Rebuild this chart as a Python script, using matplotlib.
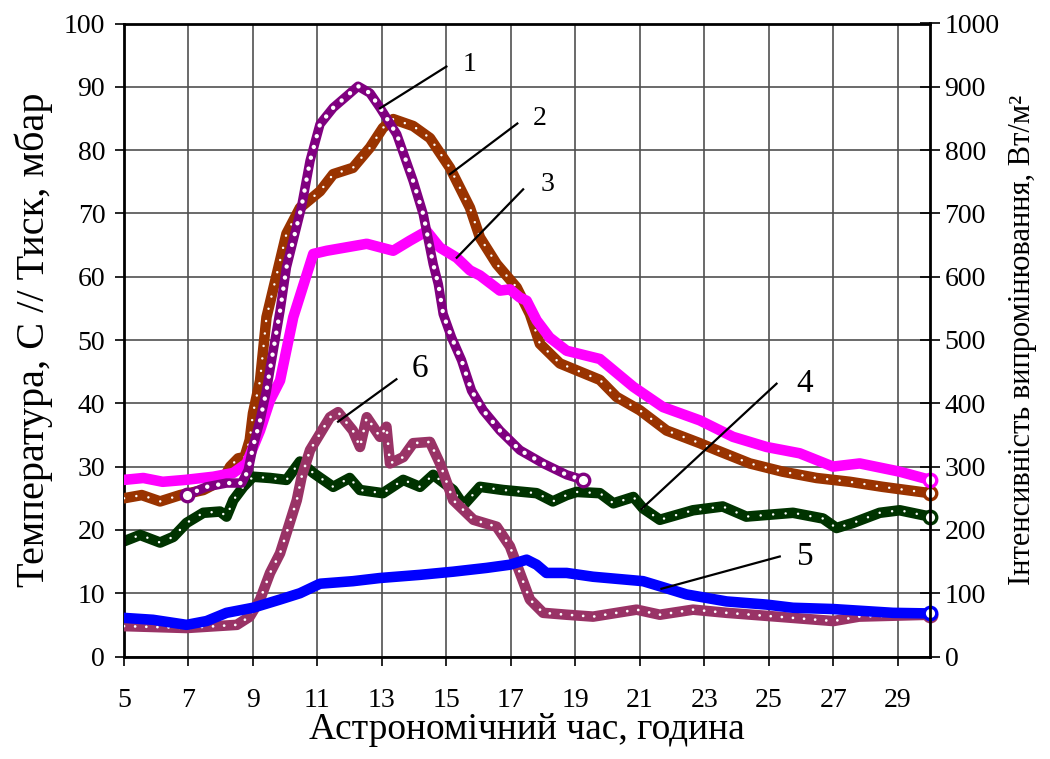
import matplotlib
matplotlib.use("Agg")
import matplotlib.pyplot as plt

plt.rcParams['font.family'] = ['Liberation Serif', 'DejaVu Serif']

# ---- data (left-axis units) ----
t1 = [6.94, 7.56, 8.18, 8.65, 8.85, 9.0, 9.22, 9.42, 9.47, 9.84, 10.04, 10.5, 10.77, 11.08, 11.49, 11.9,
      12.26, 12.63, 12.94, 13.46, 13.97, 14.28, 14.59, 14.75, 14.9, 15.16, 15.47, 15.78, 16.14, 16.66,
      17.28, 18.0, 18.73, 19.24]
v1 = [25.5, 26.8, 27.4, 27.4, 29.4, 33.1, 37.3, 42.0, 43.6, 54.6, 61.5, 70.9, 78.3, 84.1, 86.7, 88.5,
      90.1, 89.0, 86.7, 82.5, 75.1, 69.9, 62.0, 58.8, 54.1, 50.4, 46.8, 42.0, 38.9, 35.7,
      32.6, 30.5, 28.7, 27.9]

t2 = [5.0, 5.55, 6.12, 6.74, 7.46, 8.07, 8.29, 8.54, 8.74, 8.9, 9.0, 9.22, 9.42, 10.04, 10.46, 11.08,
      11.49, 12.1, 12.63, 13.03, 13.35, 13.97, 14.49, 15.11, 15.73, 16.04, 16.56, 17.18, 17.59, 17.9,
      18.52, 19.76, 20.28, 21.0, 21.83, 22.86, 23.38, 24.41, 25.43, 26.48, 27.51, 28.53, 30.0]
v2 = [25.0, 25.5, 24.5, 25.5, 26.3, 27.9, 30.0, 31.3, 31.5, 34.2, 38.4, 43.6, 53.6, 66.8, 70.9, 73.5,
      76.2, 77.2, 80.4, 83.5, 84.9, 83.8, 81.9, 77.2, 70.9, 66.2, 62.0, 58.3, 54.1, 49.4,
      46.3, 43.7, 41.0, 38.9, 35.7, 33.7, 32.6, 30.5, 29.2, 28.2, 27.6, 26.8, 25.8]

t3 = [5.0, 5.6, 6.2, 6.9, 7.77, 8.39, 8.8, 9.22, 9.53, 9.84, 10.25, 10.87, 11.29, 12.53, 13.35, 13.87,
      14.39, 14.8, 15.32, 15.73, 16.04, 16.66, 16.97, 17.28, 17.49, 17.8, 18.2, 18.73, 19.76, 20.8,
      21.72, 22.86, 23.89, 24.93, 25.96, 26.99, 27.82, 29.06, 30.0]
v3 = [27.9, 28.2, 27.6, 27.9, 28.4, 29.0, 30.5, 35.7, 40.5, 43.6, 53.6, 63.6, 64.1, 65.2, 64.1, 65.7,
      67.2, 64.6, 63.0, 61.0, 60.2, 57.8, 58.0, 56.7, 56.2, 53.1, 50.4, 48.3, 47.0, 42.6,
      39.4, 37.3, 34.7, 33.1, 32.1, 30.0, 30.5, 29.2, 27.9]

t4 = [5.0, 5.5, 6.12, 6.53, 6.94, 7.46, 7.98, 8.18, 8.39, 8.7, 9.0, 9.53, 10.04, 10.46, 10.87, 11.49,
      12.0, 12.32, 13.03, 13.66, 14.18, 14.59, 15.21, 15.53, 16.04, 16.76, 17.8, 18.3, 18.73, 19.04,
      19.76, 20.18, 20.8, 21.1, 21.62, 22.65, 23.57, 24.3, 25.75, 26.68, 27.1, 27.61, 28.44, 29.06, 30.0]
v4 = [18.2, 19.2, 18.0, 18.9, 21.1, 22.7, 22.9, 22.1, 24.7, 26.8, 28.4, 28.2, 27.9, 30.8, 29.0, 26.8,
      28.2, 26.3, 25.8, 27.9, 26.8, 28.7, 26.3, 23.9, 26.8, 26.3, 25.8, 24.5, 25.5, 26.0,
      25.8, 24.2, 25.2, 23.4, 21.6, 23.1, 23.7, 22.1, 22.7, 21.8, 20.3, 21.1, 22.7, 23.1, 22.1]

t5 = [5.0, 5.9, 6.94, 7.56, 8.18, 9.0, 9.84, 10.46, 11.08, 12.1, 12.94, 14.18, 15.21, 16.25, 16.97,
      17.49, 17.8, 18.1, 18.73, 19.55, 21.1, 21.62, 22.45, 23.69, 24.93, 25.75, 26.99, 28.85, 30.0]
v5 = [6.1, 5.8, 5.0, 5.6, 6.9, 7.7, 9.0, 10.0, 11.5, 11.9, 12.4, 12.9, 13.4, 14.0, 14.5,
      15.3, 14.5, 13.2, 13.2, 12.6, 11.9, 11.1, 9.8, 8.7, 8.2, 7.7, 7.5, 6.9, 6.8]

t6 = [5.0, 6.94, 8.5, 8.9, 9.22, 9.53, 9.84, 10.04, 10.36, 10.51, 10.77, 11.08, 11.39, 11.64, 12.1,
      12.32, 12.53, 12.94, 13.14, 13.25, 13.66, 13.97, 14.49, 14.8, 15.21, 15.84, 16.56, 16.97, 17.28,
      17.59, 18.0, 18.73, 19.55, 20.9, 21.62, 22.65, 23.69, 25.24, 27.0, 27.8, 30.0]
v6 = [4.8, 4.5, 5.0, 6.3, 9.0, 13.2, 16.3, 19.5, 24.7, 28.4, 32.6, 35.2, 37.8, 38.6, 35.7,
      33.1, 37.8, 34.7, 36.3, 30.5, 31.5, 33.7, 33.9, 30.5, 24.7, 21.6, 20.5, 17.4, 13.2,
      9.0, 6.9, 6.6, 6.3, 7.4, 6.6, 7.4, 6.9, 6.3, 5.6, 6.3, 6.6]

x_ticks = list(range(5, 30, 2))
y_left_ticks = list(range(0, 101, 10))
y_right_ticks = list(range(0, 1001, 100))

labels = ['1', '2', '3', '4', '5', '6']
label_pos = [(15.73, 93.5), (17.9, 85.0), (18.15, 74.6), (26.12, 43.1), (26.12, 15.7), (14.18, 45.5)]
leader = [((15.0, 93.2), (12.94, 86.6)), ((17.2, 84.2), (15.11, 76.2)), ((17.38, 73.8), (15.32, 63.0)),
          ((25.24, 43.1), (21.05, 23.3)), ((25.34, 15.8), (21.67, 10.7)), ((13.45, 43.8), (11.64, 37.1))]
label_size = [20, 20, 20, 24, 24, 24]

# ---- figure ----
fig = plt.figure(figsize=(10.5, 7.59), dpi=100)
ax = fig.add_axes([124 / 1050, 1 - 656.5 / 759, (930 - 124) / 1050, (656.5 - 23.5) / 759])
ax.set_xlim(5, 30)
ax.set_ylim(0, 100)
ax.set_xticks(x_ticks)
ax.set_yticks(y_left_ticks)
ax.set_axisbelow(True)
ax.grid(True, color='#505050', lw=1.2)


def band(t, v, color, lw=7.6, dots=None, z=2):
    ax.plot(t, v, color=color, lw=lw, solid_capstyle='round', solid_joinstyle='round', zorder=z)
    if dots is not None:
        dlw, gap = dots
        ax.plot(t, v, color='white', lw=dlw, linestyle=(0, (0.01, gap)),
                dash_capstyle='round', zorder=z + 0.1)
    ax.plot(t[-1:], v[-1:], 'o', ms=9, mfc='white', mec=color, mew=2.4, zorder=z + 0.2, clip_on=False)


band(t4, v4, '#003300', dots=(1.8, 5.0), z=2)
band(t6, v6, '#993366', dots=(2.0, 4.0), z=3)
band(t5, v5, '#0000FF', z=4)
band(t2, v2, '#993300', dots=(1.8, 5.0), z=5)
band(t3, v3, '#FF00FF', z=6)
band(t1, v1, '#800080', lw=6.8, dots=(3.2, 2.5), z=7)
ax.plot(t1[:1], v1[:1], 'o', ms=9, mfc='white', mec='#800080', mew=2.4, zorder=7.2)

for lab, (tx, ty), (p0, p1), fs in zip(labels, label_pos, leader, label_size):
    ax.plot([p0[0], p1[0]], [p0[1], p1[1]], color='black', lw=1.6, zorder=10)
    ax.text(tx, ty, lab, fontsize=fs, ha='center', va='center', zorder=10)

for s in ax.spines.values():
    s.set_linewidth(2.0)
ax.spines['right'].set_visible(False)
ax.tick_params(axis='both', labelsize=20, direction='out', length=6.5, width=1.2, pad=7)
ax.tick_params(axis='x', pad=16)
ax.set_xlabel('Астрономічний час, година', fontsize=27, labelpad=0)
ax.set_ylabel('Температура, С // Тиск, мбар', fontsize=29, labelpad=8)

ax2 = ax.twinx()
ax2.set_ylim(0, 1000)
ax2.set_yticks(y_right_ticks)
ax2.spines['right'].set_linewidth(2.0)
for k in ('left', 'top', 'bottom'):
    ax2.spines[k].set_visible(False)
ax2.tick_params(axis='y', labelsize=20, direction='inout', length=15, width=1.2, pad=3)
ax2.set_ylabel('Інтенсивність випромінювання, Вт/м²', fontsize=22, labelpad=6)

fig.savefig('out.png', dpi=100)
